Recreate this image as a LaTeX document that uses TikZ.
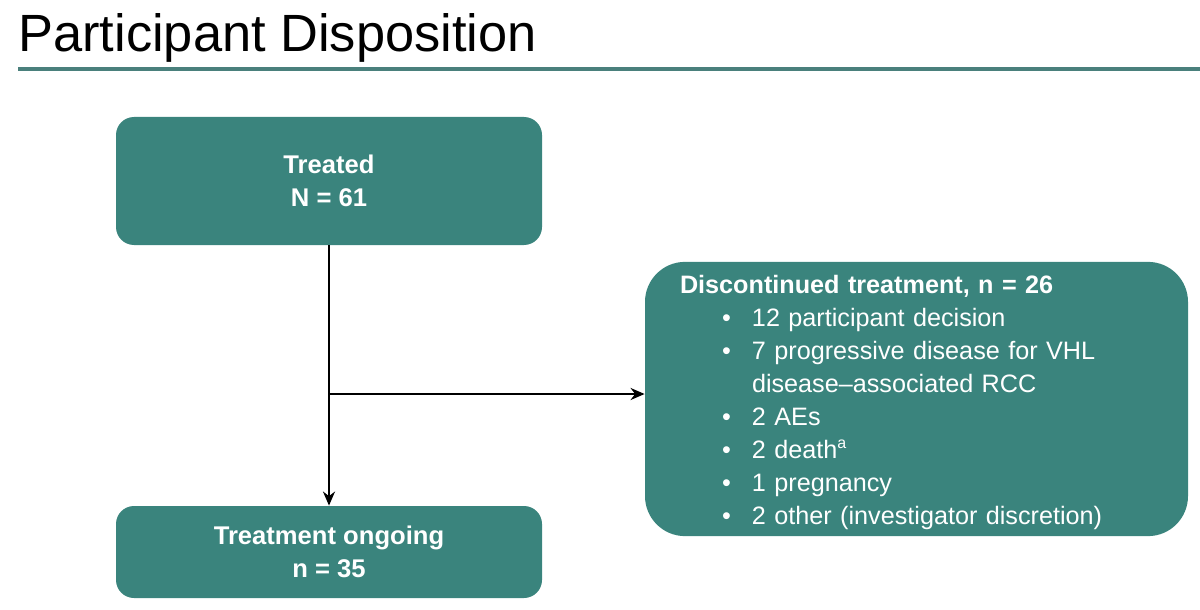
\documentclass[tikz,border=0pt]{standalone}
\usepackage{fontspec}
\setmainfont{Liberation Sans}
\usetikzlibrary{arrows.meta}
\definecolor{teal1}{RGB}{58,132,125}
\definecolor{rule1}{RGB}{74,128,124}
\newcommand\itm[1]{\hspace*{21pt}\makebox[15pt][l]{\textbullet}#1}
\begin{document}
\begin{tikzpicture}[x=0.5pt,y=-0.5pt,
  box/.style={fill=teal1,draw=none,text=white,font=\fontsize{12.8}{16.5}\selectfont\bfseries,align=center},
  conn/.style={line width=1.2pt,-{Stealth[length=7pt,width=6pt]}}]
\useasboundingbox (0,0) rectangle (1200,610);
\node[anchor=base west,inner sep=0pt,font=\fontsize{26.2}{30}\selectfont] (title) at (18,52) {Participant Disposition};
\coordinate (rl) at (18,69);
\coordinate (rr) at (1200,69);
\draw[rule1,line width=1.6pt] (rl) -- (rr);
\node[box,rounded corners=9pt,minimum width=213pt,minimum height=64pt] (treated) at (329,181) {Treated\\N = 61};
\node[box,rounded corners=9pt,minimum width=213pt,minimum height=46pt] (ongoing) at (329,552) {Treatment ongoing\\n = 35};
\node[box,rounded corners=20pt,minimum width=271.5pt,minimum height=136pt,inner xsep=17.5pt,inner ysep=3pt,text width=236.5pt,align=left,font=\fontsize{12.6}{16.5}\selectfont] (disc) at (916.5,399)
{\rule{0pt}{13pt}\textbf{Discontinued treatment, n = 26}\\
\itm{12 participant decision}\\
\itm{7 progressive disease for VHL}\\
\hspace*{36pt}disease--associated RCC\\
\itm{2 AEs}\\
\itm{2 death\raisebox{5pt}{\fontsize{8}{8}\selectfont a}}\\
\itm{1 pregnancy}\\
\itm{2 other (investigator discretion)}};
\coordinate (split) at (329,394);
\draw[conn] (treated.south) -- (ongoing.north);
\draw[conn] (split) -- (split -| disc.west);
\end{tikzpicture}
\end{document}
